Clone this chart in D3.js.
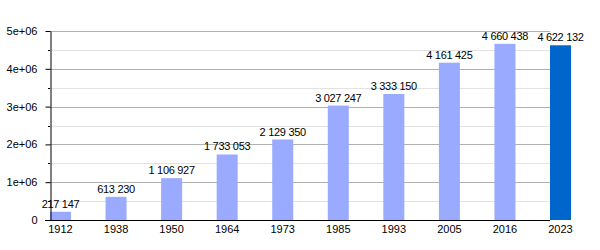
<!DOCTYPE html>
<html>
<head>
<meta charset="utf-8">
<script src="https://cdn.jsdelivr.net/npm/d3@7"></script>
<style>
  body { margin: 0; background: #fff; }
  svg { font: 11px "Liberation Sans", Arial, sans-serif; }
  .grid-major line { stroke: #b0b0b0; }
  .grid-minor line { stroke: #e2e2e2; }
  .axis path, .axis line { stroke: #000; }
  .val { font-size: 11px; letter-spacing: -0.3px; }
</style>
</head>
<body>
<script>
var years = ["1912", "1938", "1950", "1964", "1973", "1985", "1993", "2005", "2016", "2023"];
var population = [217147, 613230, 1106927, 1733053, 2129350, 3027247, 3333150, 4161425, 4660438, 4622132];
var yTicks = [0, 1e6, 2e6, 3e6, 4e6, 5e6];
var yTickLabels = ["0", "1e+06", "2e+06", "3e+06", "4e+06", "5e+06"];
var minorTicks = [5e5, 1.5e6, 2.5e6, 3.5e6, 4.5e6];

var w = 600, h = 250;
var mLeft = 50, mRight = 550, mTop = 31, mBottom = 220;
var barW = 21;

var svg = d3.select("body").append("svg")
  .attr("width", w)
  .attr("height", h);

var y = d3.scaleLinear().domain([0, 5e6]).range([mBottom, mTop]);
// bars are placed left-aligned on each slot
var x = d3.scalePoint().domain(years).range([mLeft, mRight]);

svg.append("g")
  .attr("class", "grid-minor")
  .selectAll("line")
  .data(minorTicks)
  .enter().append("line")
  .attr("x1", mLeft).attr("x2", mRight)
  .attr("y1", function (d) { return Math.round(y(d)) + 0.5; })
  .attr("y2", function (d) { return Math.round(y(d)) + 0.5; });

svg.append("g")
  .attr("class", "grid-major")
  .selectAll("line")
  .data(yTicks.slice(1))
  .enter().append("line")
  .attr("x1", mLeft).attr("x2", mRight)
  .attr("y1", function (d) { return Math.round(y(d)) + 0.5; })
  .attr("y2", function (d) { return Math.round(y(d)) + 0.5; });

svg.selectAll("rect.bar")
  .data(population)
  .enter().append("rect")
  .attr("class", "bar")
  .attr("x", function (d, i) { return x(years[i]); })
  .attr("width", barW)
  .attr("y", function (d) { return y(d); })
  .attr("height", function (d) { return mBottom - y(d); })
  .attr("fill", function (d, i) { return i === years.length - 1 ? "#0066cc" : "#99aaff"; });

var fmt = function (v) { return d3.format(",")(v).replace(/,/g, " "); };

svg.selectAll("text.val")
  .data(population)
  .enter().append("text")
  .attr("class", "val")
  .attr("x", function (d, i) { return x(years[i]) + barW / 2; })
  .attr("y", function (d) { return y(d) - 4; })
  .attr("text-anchor", "middle")
  .attr("fill", "#000")
  .text(fmt);

// y axis
var yAxis = d3.axisLeft(y)
  .tickValues(yTicks)
  .tickFormat(function (d, i) { return yTickLabels[i]; })
  .tickSize(5)
  .tickSizeOuter(0)
  .tickPadding(8);

svg.append("g")
  .attr("class", "axis")
  .attr("transform", "translate(" + (mLeft + 0.5) + ",0)")
  .call(yAxis)
  .call(function (g) { g.selectAll("text").attr("fill", "#000").style("font-size", "11px"); });

svg.append("g")
  .attr("class", "axis")
  .selectAll("line")
  .data(minorTicks)
  .enter().append("line")
  .attr("x1", mLeft - 2).attr("x2", mLeft)
  .attr("y1", function (d) { return Math.round(y(d)) + 0.5; })
  .attr("y2", function (d) { return Math.round(y(d)) + 0.5; });

// x axis baseline + labels
svg.append("line")
  .attr("x1", mLeft - 5).attr("x2", mRight)
  .attr("y1", mBottom + 0.5).attr("y2", mBottom + 0.5)
  .attr("stroke", "#000");

svg.selectAll("text.year")
  .data(years)
  .enter().append("text")
  .attr("class", "year")
  .attr("x", function (d) { return x(d) + barW / 2; })
  .attr("y", mBottom + 13)
  .attr("text-anchor", "middle")
  .attr("fill", "#000")
  .text(function (d) { return d; });
</script>
</body>
</html>
